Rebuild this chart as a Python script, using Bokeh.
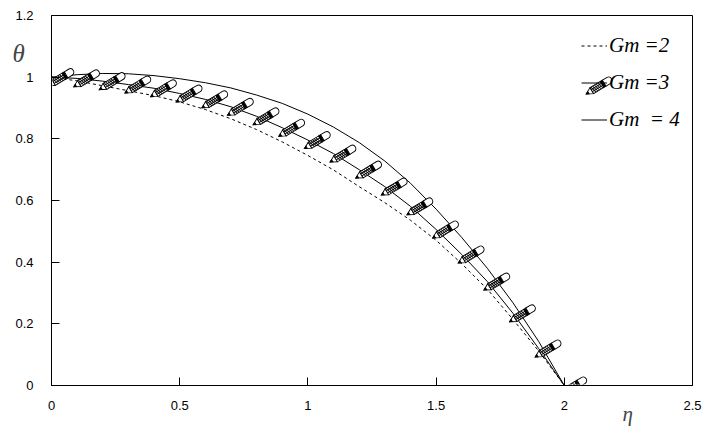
import base64
from bokeh.plotting import figure
from bokeh.models import Legend, LegendItem, Label
from bokeh.embed import file_html
from bokeh.resources import INLINE

# ---- data ----
eta = [0.0, 0.1, 0.2, 0.3, 0.4, 0.5, 0.6, 0.7, 0.8, 0.9, 1.0,
       1.1, 1.2, 1.3, 1.4, 1.5, 1.6, 1.7, 1.8, 1.9, 2.0]
theta_gm2 = [1.0, 0.988, 0.972, 0.956, 0.940, 0.920, 0.895, 0.865, 0.830, 0.790, 0.746,
             0.699, 0.645, 0.593, 0.536, 0.471, 0.395, 0.312, 0.214, 0.112, 0.0]
theta_gm3 = [1.0, 0.996, 0.987, 0.976, 0.964, 0.947, 0.928, 0.904, 0.873, 0.836, 0.796,
             0.752, 0.700, 0.645, 0.581, 0.506, 0.425, 0.337, 0.234, 0.120, 0.0]
theta_gm4 = [1.0, 1.008, 1.012, 1.011, 1.005, 0.995, 0.982, 0.965, 0.942, 0.915, 0.880,
             0.838, 0.788, 0.728, 0.656, 0.572, 0.480, 0.380, 0.268, 0.143, 0.0]
series_labels = ["Gm =2", "Gm =3", "Gm  = 4"]
x_ticks = [0, 0.5, 1, 1.5, 2, 2.5]
x_tick_labels = ["0", "0.5", "1", "1.5", "2", "2.5"]
y_ticks = [0, 0.2, 0.4, 0.6, 0.8, 1.0, 1.2]
y_tick_labels = ["0", "0.2", "0.4", "0.6", "0.8", "1", "1.2"]

# ---- layout ----
W, H = 702, 429
BL, BT = 50, 15
FW, FH = 642, 370
BR, BB = W - BL - FW, H - BT - FH
XMAX, YMAX = 2.5, 1.2

p = figure(width=W, height=H, output_backend="svg", toolbar_location=None,
           x_range=(0, XMAX), y_range=(0, YMAX),
           min_border_left=BL, min_border_right=BR, min_border_top=BT, min_border_bottom=BB)
p.background_fill_color = "white"
p.border_fill_color = "white"
p.outline_line_color = "black"
p.outline_line_width = 1
p.xgrid.visible = False
p.ygrid.visible = False

for ax, ticks, labels in ((p.xaxis[0], x_ticks, x_tick_labels), (p.yaxis[0], y_ticks, y_tick_labels)):
    ax.ticker = ticks
    ax.major_label_overrides = {t: l for t, l in zip(ticks, labels)}
    ax.major_tick_in = 8
    ax.major_tick_out = 0
    ax.minor_tick_line_color = None
    ax.axis_line_color = "black"
    ax.major_tick_line_color = "black"
    ax.major_label_text_font = "Liberation Sans"
    ax.major_label_text_font_size = "13px"
    ax.major_label_text_color = "black"
p.xaxis.major_label_standoff = 15
p.yaxis.major_label_standoff = 18

r2 = p.line(eta, theta_gm2, line_color="black", line_width=1, line_dash="3 3")
r3 = p.line(eta, theta_gm3, line_color="black", line_width=1)
r4 = p.line(eta, theta_gm4, line_color="black", line_width=1)

# pencil marker as an SVG image (data point sits at image centre)
cross = "".join(f'<line x1="{x}" y1="-3.5" x2="{x+2}" y2="3.5"/>' for x in (-7, -5, -3, -1, 1))
pencil_svg = (
    '<svg xmlns="http://www.w3.org/2000/svg" width="60" height="40" viewBox="0 0 60 40">'
    '<g transform="translate(39 21) rotate(-31)" stroke="black" stroke-width="0.9" fill="white">'
    '<polygon points="-14.5,0 -8,-3.5 -8,3.5"/>'
    '<polygon points="-14.5,0 -12,-1.3 -12,1.3" fill="black"/>'
    '<rect x="-8" y="-3.5" width="12" height="7"/>'
    '<line x1="-8" y1="-1.2" x2="4" y2="-1.2"/>'
    '<line x1="-8" y1="1.2" x2="4" y2="1.2"/>'
    + cross +
    '<rect x="4" y="-3.5" width="2.5" height="7" fill="black"/>'
    '<path d="M6.5,-3.5 H11.5 A3.5,3.5 0 0 1 11.5,3.5 H6.5 Z"/>'
    '</g></svg>')
uri = "data:image/svg+xml;base64," + base64.b64encode(pencil_svg.encode()).decode()
p.image_url(url=[uri] * len(eta), x=eta, y=theta_gm3, w=60, h=40,
            w_units="screen", h_units="screen", anchor="center")

# legend
GLYPH_W, ROW_H, SPACING = 26, 23, 12
LEG_X, LEG_TOP = 530, 23.5
legend = Legend(items=[LegendItem(label=series_labels[0], renderers=[r2]),
                       LegendItem(label=series_labels[1], renderers=[r3]),
                       LegendItem(label=series_labels[2], renderers=[r4])],
                location=(LEG_X, FH - LEG_TOP - 3 * ROW_H - 2 * SPACING),
                glyph_width=GLYPH_W, glyph_height=ROW_H, label_height=ROW_H,
                spacing=SPACING, padding=0, margin=0, label_standoff=2,
                border_line_color=None, background_fill_alpha=0,
                label_text_font="Liberation Serif", label_text_font_style="italic",
                label_text_font_size="21px", label_text_color="black")
p.add_layout(legend)

# pencil key for Gm=3 inside the legend (converted from legend screen position)
lx = (LEG_X + GLYPH_W / 2 - 4) * XMAX / FW
ly = YMAX - (LEG_TOP + ROW_H + SPACING + ROW_H / 2) * YMAX / FH
p.image_url(url=[uri], x=[lx], y=[ly], w=60, h=40, w_units="screen", h_units="screen", anchor="center")

# axis titles (placed in side panels so that they are not clipped by the frame)
p.add_layout(Label(x=-33 * XMAX / FW, y=YMAX - 38 * YMAX / FH, text="θ",
                   text_font="Liberation Serif", text_font_style="italic",
                   text_font_size="25px", text_align="center", text_baseline="middle"), "left")
p.add_layout(Label(x=577 * XMAX / FW, y=-28 * YMAX / FH, text="η",
                   text_font="Liberation Serif", text_font_style="italic",
                   text_font_size="21px", text_align="center", text_baseline="middle"), "right")

open("out.html", "w").write(file_html(p, INLINE))
